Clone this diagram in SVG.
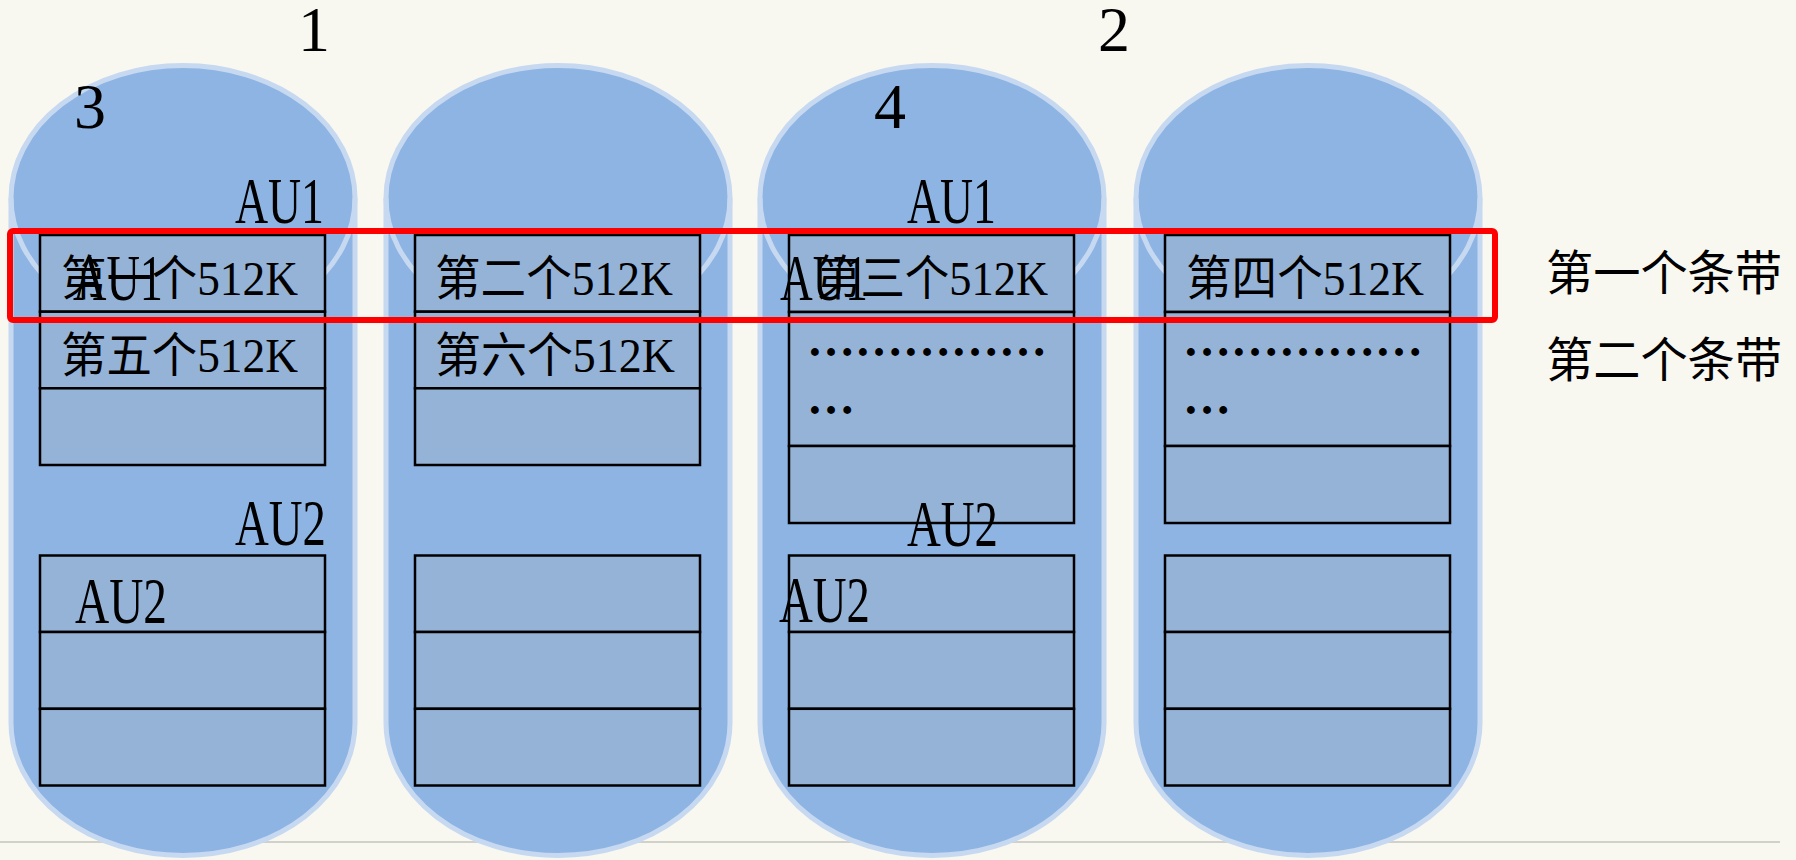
<svg xmlns="http://www.w3.org/2000/svg" width="1796" height="860" viewBox="0 0 1796 860">
<style>
.cyl{fill:#8EB4E3;stroke:#C6D9F1;stroke-width:5}
.arc{fill:none;stroke:#C6D9F1;stroke-width:5}
.box{fill:#95B3D7;stroke:#000;stroke-width:2.5}
.t{font-family:"Liberation Serif","Noto Sans CJK SC",serif;fill:#000}
.big{font-size:65px}
.num{font-size:64px}
.mid{font-size:48px}
.dots{font-weight:bold}
</style>
<rect x="0" y="0" width="1796" height="860" fill="#F8F7F0"/>
<line x1="0" y1="842" x2="1780" y2="842" stroke="#D2D1C9" stroke-width="2"/>
<g id="connectors"/>

<g id="disk1">
<path class="cyl" d="M11,198 A172,132.5 0 0 1 355,198 L355,723 A172,132.5 0 0 1 11,723 Z"/>
<path class="arc" d="M11,198 A172,132.5 0 0 0 355,198"/>
<rect class="box" x="40" y="235" width="285" height="76.7"/>
<rect class="box" x="40" y="311.7" width="285" height="76.6"/>
<rect class="box" x="40" y="388.3" width="285" height="76.7"/>
<rect class="box" x="40" y="555.5" width="285" height="76.5"/>
<rect class="box" x="40" y="632" width="285" height="76.8"/>
<rect class="box" x="40" y="708.8" width="285" height="76.7"/>
</g>

<g id="disk2">
<path class="cyl" d="M386,198 A172,132.5 0 0 1 730,198 L730,723 A172,132.5 0 0 1 386,723 Z"/>
<path class="arc" d="M386,198 A172,132.5 0 0 0 730,198"/>
<rect class="box" x="415" y="235" width="285" height="76.7"/>
<rect class="box" x="415" y="311.7" width="285" height="76.6"/>
<rect class="box" x="415" y="388.3" width="285" height="76.7"/>
<rect class="box" x="415" y="555.5" width="285" height="76.5"/>
<rect class="box" x="415" y="632" width="285" height="76.8"/>
<rect class="box" x="415" y="708.8" width="285" height="76.7"/>
</g>

<g id="disk3">
<path class="cyl" d="M760,198 A172,132.5 0 0 1 1104,198 L1104,723 A172,132.5 0 0 1 760,723 Z"/>
<path class="arc" d="M760,198 A172,132.5 0 0 0 1104,198"/>
<rect class="box" x="789" y="235" width="285" height="77"/>
<rect class="box" x="789" y="312" width="285" height="134"/>
<rect class="box" x="789" y="446" width="285" height="77"/>
<rect class="box" x="789" y="555.5" width="285" height="76.5"/>
<rect class="box" x="789" y="632" width="285" height="76.8"/>
<rect class="box" x="789" y="708.8" width="285" height="76.7"/>
</g>

<g id="disk4">
<path class="cyl" d="M1136,198 A172,132.5 0 0 1 1480,198 L1480,723 A172,132.5 0 0 1 1136,723 Z"/>
<path class="arc" d="M1136,198 A172,132.5 0 0 0 1480,198"/>
<rect class="box" x="1165" y="235" width="285" height="77"/>
<rect class="box" x="1165" y="312" width="285" height="134"/>
<rect class="box" x="1165" y="446" width="285" height="77"/>
<rect class="box" x="1165" y="555.5" width="285" height="76.5"/>
<rect class="box" x="1165" y="632" width="285" height="76.8"/>
<rect class="box" x="1165" y="708.8" width="285" height="76.7"/>
</g>

<g id="stripe1">
<rect x="10" y="231" width="1485" height="89" rx="3" fill="none" stroke="#FF0000" stroke-width="6"/>
</g>

<g id="labels">
<text class="t num" x="314" y="51" text-anchor="middle">1</text>
<text class="t num" x="1114" y="51" text-anchor="middle">2</text>
<text class="t num" x="90" y="128" text-anchor="middle">3</text>
<text class="t num" x="890" y="128" text-anchor="middle">4</text>

<text class="t big" x="235" y="223" textLength="89" lengthAdjust="spacingAndGlyphs">AU1</text>
<text class="t big" x="907" y="223" textLength="89" lengthAdjust="spacingAndGlyphs">AU1</text>
<text class="t big" x="235" y="545" textLength="91" lengthAdjust="spacingAndGlyphs">AU2</text>
<text class="t big" x="907" y="546" textLength="91" lengthAdjust="spacingAndGlyphs">AU2</text>

<text class="t mid" x="61" y="295" textLength="237" lengthAdjust="spacingAndGlyphs">第一个512K</text>
<text class="t mid" x="61" y="372" textLength="237" lengthAdjust="spacingAndGlyphs">第五个512K</text>
<text class="t mid" x="435" y="295" textLength="238" lengthAdjust="spacingAndGlyphs">第二个512K</text>
<text class="t mid" x="435" y="372" textLength="240" lengthAdjust="spacingAndGlyphs">第六个512K</text>
<text class="t mid" x="816" y="295" textLength="232" lengthAdjust="spacingAndGlyphs">第三个512K</text>
<text class="t mid" x="1186" y="295" textLength="238" lengthAdjust="spacingAndGlyphs">第四个512K</text>

<text class="t big" x="73" y="300" textLength="90" lengthAdjust="spacingAndGlyphs">AU1</text>
<text class="t big" x="780" y="300" textLength="88" lengthAdjust="spacingAndGlyphs">AU1</text>
<text class="t big" x="75" y="623" textLength="92" lengthAdjust="spacingAndGlyphs">AU2</text>
<text class="t big" x="779" y="622" textLength="91" lengthAdjust="spacingAndGlyphs">AU2</text>

<text class="t mid dots" x="807" y="356">……………</text>
<text class="t mid dots" x="807" y="414">…</text>
<text class="t mid dots" x="1183" y="356">……………</text>
<text class="t mid dots" x="1183" y="414">…</text>

<text class="t mid" x="1546" y="290" textLength="236" lengthAdjust="spacingAndGlyphs">第一个条带</text>
<text class="t mid" x="1546" y="377" textLength="236" lengthAdjust="spacingAndGlyphs">第二个条带</text>
</g>
</svg>
